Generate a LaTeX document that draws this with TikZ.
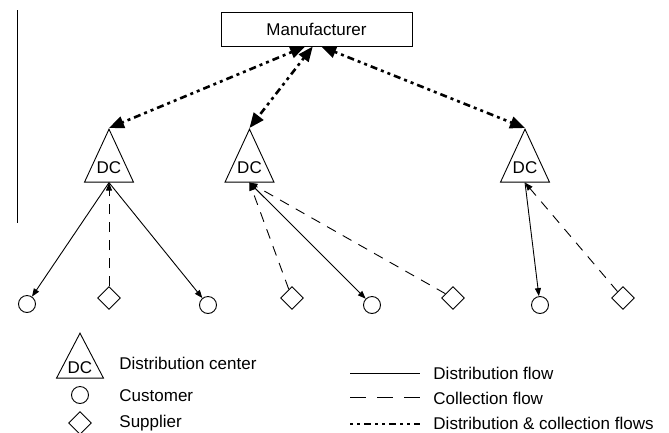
\documentclass[tikz,border=0pt]{standalone}
\usepackage{fontspec}
\setmainfont{Liberation Sans}
\usetikzlibrary{shapes.geometric,arrows.meta}

\begin{document}
\begin{tikzpicture}[x=1pt, y=-1pt, line width=0.9pt, font=\fontsize{17}{20}\selectfont,
    >={Triangle[length=8pt,width=6pt]},
    dc node/.style={draw, isosceles triangle, isosceles triangle stretches, shape border rotate=90,
      minimum width=49pt, minimum height=53pt, inner sep=0pt, text depth=6pt, anchor=apex},
    cust node/.style={draw, circle, minimum size=17pt, inner sep=0pt},
    supp node/.style={draw, diamond, minimum width=23pt, minimum height=23pt, inner sep=0pt},
    legend text/.style={anchor=west, inner sep=0pt},
    dist flow/.style={->},
    coll flow/.style={->, dash pattern=on 10pt off 8pt},
    dc flow/.style={<->, line width=2.6pt, dash pattern=on 3pt off 4pt on 3pt off 4pt on 7pt off 4pt,
      >={Triangle[length=15pt,width=12pt]}}]

          \useasboundingbox (0,0) rectangle (669,432);
          \draw (17.5,10) -- (17.5,223);

          \node[draw, minimum width=191pt, minimum height=34pt, inner sep=0pt] (m) at (316.5,29) {Manufacturer};

          \node[dc node] (d1) at (109,128) {DC};
          \node[dc node] (d2) at (249.5,128) {DC};
          \node[dc node] (d3) at (525,128) {DC};

          \node[cust node] (c1) at (27,304) {};
          \node[supp node] (s1) at (109,298) {};
          \node[cust node] (c2) at (208,305) {};
          \node[supp node] (s2) at (292,298) {};
          \node[cust node] (c3) at (372,305) {};
          \node[supp node] (s3) at (453,298) {};
          \node[cust node] (c4) at (540,305) {};
          \node[supp node] (s4) at (623,298) {};

          \draw[dc flow] (m.237) -- (d1.apex);
          \draw[dc flow] (m.258) -- (d2.apex);
          \draw[dc flow] (m.285) -- (d3.apex);

          \draw[dist flow] (d1.lower side) -- (c1);
          \draw[coll flow] (s1) -- (d1.lower side);
          \draw[dist flow] (d1.lower side) -- (c2);

          \draw[coll flow] (s2) -- (d2.lower side);
          \draw[dist flow] (d2.lower side) -- (c3);
          \draw[coll flow] (s3) -- (d2.lower side);

          \draw[dist flow] (d3.lower side) -- (c4);
          \draw[coll flow] (s4) -- (d3.lower side);

          \node[dc node, minimum width=47pt, minimum height=45pt, text depth=2pt] (ld) at (80,332) {DC};
          \node[legend text] (lt1) at (119,363) {Distribution center};
          \node[cust node] (lc) at (80,395) {};
          \node[legend text] (lt2) at (119,396) {Customer};
          \node[supp node] (ls) at (80,423) {};
          \node[legend text] (lt3) at (119,423) {Supplier};

          \coordinate (a1) at (350,373);
          \coordinate (b1) at (420,373);
          \coordinate (a2) at (350,397);
          \coordinate (b2) at (420,397);
          \coordinate (a3) at (350,424);
          \coordinate (b3) at (420,424);
          \draw (a1) -- (b1);
          \draw[dash pattern=on 16pt off 11pt] (a2) -- (b2);
          \draw[line width=2.6pt, dash pattern=on 3pt off 4pt on 3pt off 4pt on 7pt off 4pt] (a3) -- (b3);
          \node[legend text] (f1) at (433,373) {Distribution flow};
          \node[legend text] (f2) at (433,398) {Collection flow};
          \node[legend text] (f3) at (433,423) {Distribution \& collection flows};

        \end{tikzpicture}
\end{document}
